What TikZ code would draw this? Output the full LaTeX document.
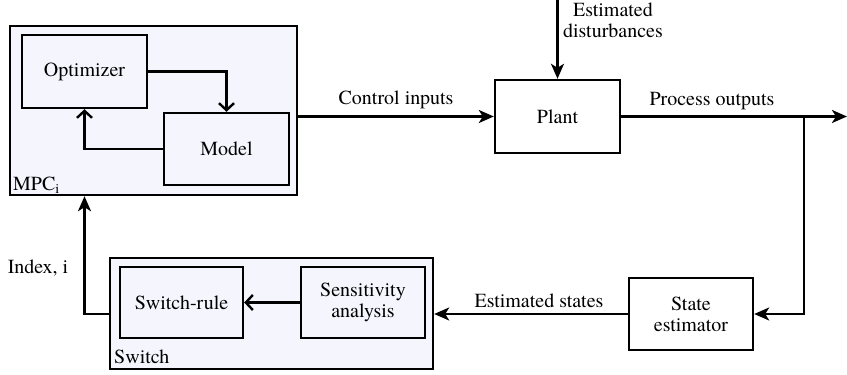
\documentclass[tikz,border=0pt]{standalone}
\usepackage{fontspec}
\setmainfont{TeX Gyre Termes}
\usetikzlibrary{arrows.meta,positioning}
\definecolor{panel}{RGB}{245,246,253}
\begin{document}
\begin{tikzpicture}[x=1pt,y=-1pt,
  font=\fontsize{20}{21}\selectfont,
  every node/.style={inner sep=0pt},
  blk/.style={draw, line width=2.4pt, fill=panel, anchor=center},
  plainblk/.style={draw, line width=2.4pt, fill=white, anchor=center, align=center},
  frame/.style={draw, line width=2.4pt, fill=panel},
  wire/.style={line width=2.4pt},
  solidtip/.style={wire, -{Stealth[length=15pt,width=13pt,inset=4pt]}},
  opentip/.style={wire, -{Straight Barb[length=7pt,width=15pt,line width=2.4pt]}},
  lbl/.style={align=center}
]
\useasboundingbox (0,0) rectangle (847,375);

% outer frames
\node[frame, minimum width=287pt, minimum height=169pt] (mpc) at (153.5,110.5) {};
\node[frame, minimum width=323pt, minimum height=111pt] (sw) at (271.5,313.5) {};

% inner blocks
\node[blk, minimum width=125pt, minimum height=73pt] (opt) at (84.5,71.5) {Optimizer};
\node[blk, minimum width=125pt, minimum height=72pt] (model) at (226.5,149) {Model};
\node[blk, minimum width=123pt, minimum height=71pt] (rule) at (181.5,302.5) {Switch-rule};
\node[blk, minimum width=124pt, minimum height=71pt, align=center] (sens) at (363,302.5) {Sensitivity\\analysis};

\node[plainblk, minimum width=125pt, minimum height=73pt] (plant) at (557.5,116.5) {Plant};
\node[plainblk, minimum width=124pt, minimum height=72pt] (se) at (691,314) {State\\estimator};

% frame captions
\node[anchor=west] at (13,185) {MPC\textsubscript{i}};
\node[anchor=west] at (114,357) {Switch};

% helper points
\coordinate (top) at (557.5,0);
\coordinate (out) at (847,116.5);
\coordinate (tap) at (804,116.5);

% inner MPC loop
\draw[opentip] (opt.east) -| (model.north);
\draw[opentip] (model.west) -| (opt.south);

% main loop
\draw[solidtip] (mpc.east |- plant.west) -- (plant.west)
  node[midway, above=6pt] {Control inputs};
\draw[solidtip] (top) -- (plant.north);
\node[lbl] at (613,20) {Estimated\\disturbances};
\draw[solidtip] (plant.east) -- (out);
\node at (712,101) {Process outputs};
\draw[solidtip] (tap) |- (se.east);
\draw[solidtip] (se.west) -- (se.west -| sw.east);
\node at (539,301) {Estimated states};
\draw[opentip] (sens.west) -- (rule.east);
\draw[solidtip] (sw.west |- se.west) -| (mpc.south -| opt.south);
\node at (38,268) {Index, i};
\end{tikzpicture}
\end{document}
